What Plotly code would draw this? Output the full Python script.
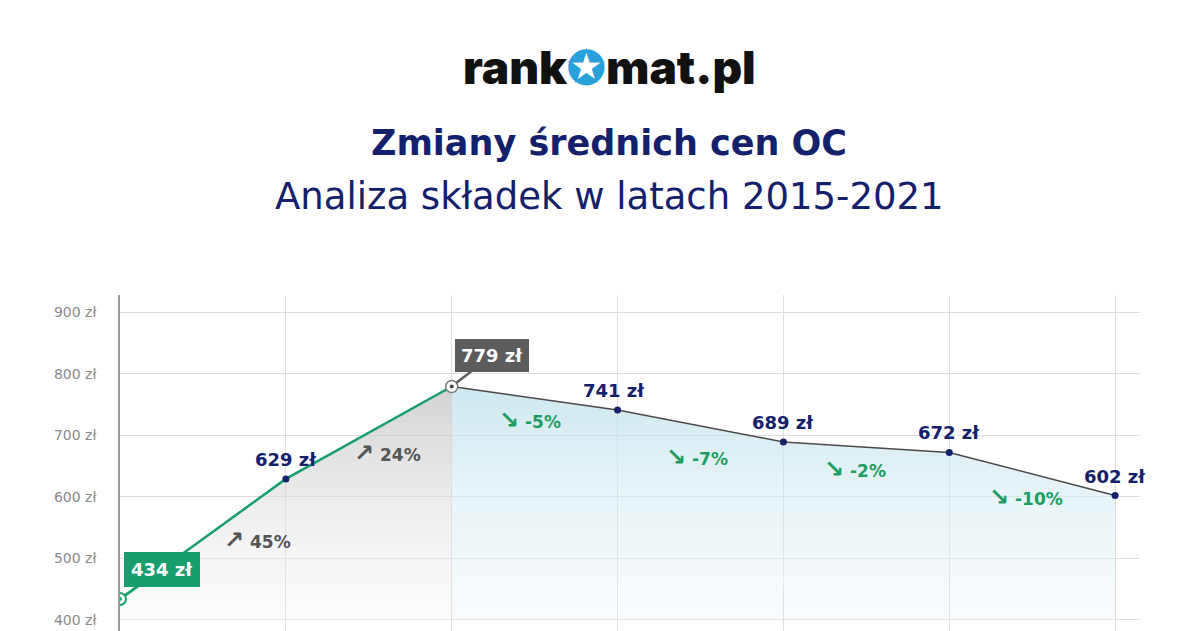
import plotly.graph_objects as go

# ---- data ----
years = [2015, 2016, 2017, 2018, 2019, 2020, 2021]
prices = [434, 629, 779, 741, 689, 672, 602]
price_labels = ["434 zł", "629 zł", "779 zł", "741 zł", "689 zł", "672 zł", "602 zł"]
changes = ["45%", "24%", "-5%", "-7%", "-2%", "-10%"]
y_ticks = [400, 500, 600, 700, 800, 900]
y_tick_labels = ["400 zł", "500 zł", "600 zł", "700 zł", "800 zł", "900 zł"]

# ---- style ----
FONT = "DejaVu Sans"
NAVY = "#13206b"
GREEN = "#179e6c"
GRAY_LINE = "#4a4a4a"
BOX_GRAY = "#5c5c5c"
W, H = 1198, 631
ML, MR, MT, MB = 120, 58, 295, 0
plot_w = W - ML - MR
plot_h = H - MT - MB


def px_x(px):
    return (px - ML) / plot_w


def px_y(py):
    return (H - MB - py) / plot_h


fig = go.Figure()

# baselines + gradient fills
base = 400
fig.add_trace(go.Scatter(x=years[:3], y=[base] * 3, mode="lines",
                         line=dict(width=0), hoverinfo="skip", showlegend=False))
fig.add_trace(go.Scatter(x=years[:3], y=prices[:3], mode="lines", line=dict(width=0),
                         fill="tonexty",
                         fillgradient=dict(type="vertical", start=400, stop=780,
                                           colorscale=[[0, "rgba(245,245,245,0.3)"],
                                                       [1, "rgba(195,195,195,0.75)"]]),
                         hoverinfo="skip", showlegend=False))
fig.add_trace(go.Scatter(x=years[2:], y=[base] * 5, mode="lines",
                         line=dict(width=0), hoverinfo="skip", showlegend=False))
fig.add_trace(go.Scatter(x=years[2:], y=prices[2:], mode="lines", line=dict(width=0),
                         fill="tonexty",
                         fillgradient=dict(type="vertical", start=400, stop=780,
                                           colorscale=[[0, "rgba(235,244,248,0.3)"],
                                                       [1, "rgba(190,224,234,0.75)"]]),
                         hoverinfo="skip", showlegend=False))

# lines
fig.add_trace(go.Scatter(x=years[:3], y=prices[:3], mode="lines",
                         line=dict(color=GREEN, width=2.5), showlegend=False))
fig.add_trace(go.Scatter(x=years[2:], y=prices[2:], mode="lines",
                         line=dict(color=GRAY_LINE, width=1.5), showlegend=False))

# markers
dot_idx = [1, 3, 4, 5, 6]
fig.add_trace(go.Scatter(x=[years[i] for i in dot_idx], y=[prices[i] for i in dot_idx],
                         mode="markers", marker=dict(color=NAVY, size=7), showlegend=False))
fig.add_trace(go.Scatter(x=[years[0]], y=[prices[0]], mode="markers",
                         marker=dict(color="white", size=12, line=dict(color=GREEN, width=2)),
                         showlegend=False))
fig.add_trace(go.Scatter(x=[years[0]], y=[prices[0]], mode="markers",
                         marker=dict(color=GREEN, size=4), showlegend=False))
fig.add_trace(go.Scatter(x=[years[2]], y=[prices[2]], mode="markers",
                         marker=dict(color="white", size=12, line=dict(color="#777", width=1.5)),
                         showlegend=False))
fig.add_trace(go.Scatter(x=[years[2]], y=[prices[2]], mode="markers",
                         marker=dict(color="#444", size=4), showlegend=False))

ann = []
# value labels
for i in dot_idx:
    ann.append(dict(x=years[i], y=prices[i], text=price_labels[i], showarrow=False,
                    yanchor="bottom", yshift=7, xshift=(-4 if i == 3 else 0),
                    font=dict(family=FONT, size=18, color=NAVY, weight=700)))

# callouts
ann.append(dict(x=years[0], y=prices[0], text=price_labels[0], showarrow=True,
                arrowhead=0, arrowwidth=2.5, arrowcolor=GREEN, ax=42, ay=-30,
                bgcolor=GREEN, bordercolor=GREEN, borderpad=6, standoff=6,
                font=dict(family=FONT, size=18, color="white", weight=700)))
ann.append(dict(x=years[2], y=prices[2], text=price_labels[2], showarrow=True,
                arrowhead=0, arrowwidth=2.5, arrowcolor=BOX_GRAY, ax=40, ay=-31,
                bgcolor=BOX_GRAY, bordercolor=BOX_GRAY, borderpad=5, standoff=6,
                font=dict(family=FONT, size=18, color="white", weight=700)))

# percentage change labels
pct_frac = [0.83, 0.61, 0.47, 0.48, 0.43, 0.46]
pct_shift = [41, 30, 22, 32, 23, 25]
for k, ch in enumerate(changes):
    x = years[k] + pct_frac[k]
    y = prices[k] + (prices[k + 1] - prices[k]) * pct_frac[k]
    up = not ch.startswith("-")
    arrow = "↗" if up else "↘"
    txt = "<span style='font-size:24px'>" + arrow + "</span> " + ch
    ann.append(dict(x=x, y=y, text=txt, showarrow=False, yshift=-pct_shift[k],
                    font=dict(family=FONT, size=17, color=("#555555" if up else "#1e9e63"),
                              weight=700)))

# titles + logo
ann.append(dict(xref="paper", yref="paper", x=px_x(609), y=px_y(67), showarrow=False,
                yanchor="middle",
                text="rank<span style='color:#2aa0da'>✪</span>mat.pl",
                font=dict(family="Inter", size=46, color="#111111", weight=900)))
ann.append(dict(xref="paper", yref="paper", x=px_x(609), y=px_y(143), showarrow=False,
                yanchor="middle", text="Zmiany średnich cen OC",
                font=dict(family=FONT, size=35, color=NAVY, weight=700)))
ann.append(dict(xref="paper", yref="paper", x=px_x(609), y=px_y(197), showarrow=False,
                yanchor="middle", text="Analiza składek w latach 2015-2021",
                font=dict(family=FONT, size=37, color=NAVY, weight=400)))

fig.update_layout(
    width=W, height=H, margin=dict(l=ML, r=MR, t=MT, b=MB),
    paper_bgcolor="white", plot_bgcolor="white",
    annotations=ann, showlegend=False,
    xaxis=dict(range=[2015, 2021.15], dtick=1, tick0=2015, showgrid=True,
               gridcolor="#dedede", gridwidth=1, showticklabels=False,
               zeroline=False, showline=False, fixedrange=True),
    yaxis=dict(range=[382.1, 927.6], tickvals=y_ticks, ticktext=y_tick_labels,
               showgrid=True, gridcolor="#dedede", gridwidth=1, zeroline=False,
               showline=True, linecolor="#9a9a9a", linewidth=1.5,
               ticklabelstandoff=19,
               tickfont=dict(family=FONT, size=14, color="#8a8a8a")),
)

fig.write_html("out.html")
